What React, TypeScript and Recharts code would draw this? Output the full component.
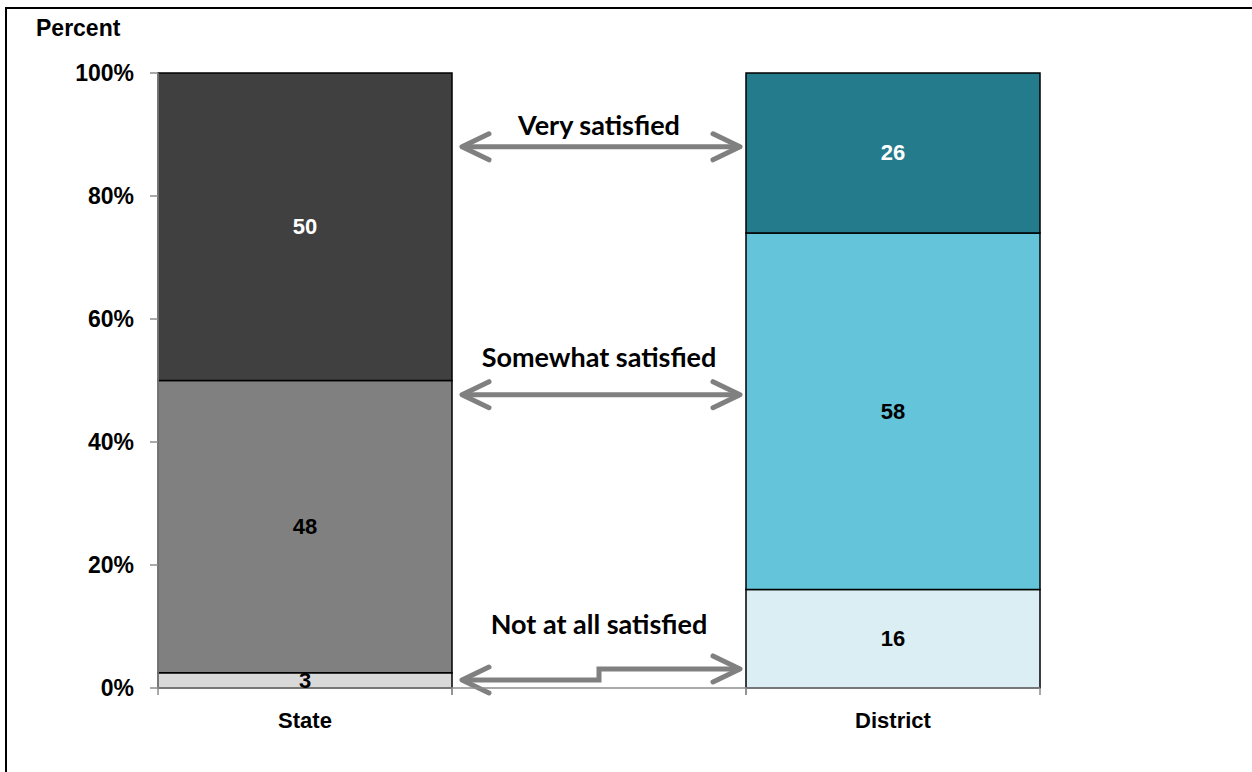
import { BarChart, Bar, XAxis, YAxis, ReferenceLine, ReferenceDot, Cell, LabelList } from "recharts";

// middle category is an empty spacer that holds the arrows
const categories = ["State", " ", "District"];
const notAtAll = [2.5, 0, 16];
const somewhat = [47.5, 0, 58];
const very = [50, 0, 26];

const notAtAllColors = ["#D9D9D9", "#ffffff", "#DAEEF3"];
const somewhatColors = ["#808080", "#ffffff", "#63C4DA"];
const veryColors = ["#404040", "#ffffff", "#237B8C"];

const yTicks = [0, 20, 40, 60, 80, 100];

// arrows between the two bars
const arrowNames = ["Very satisfied", "Somewhat satisfied", "Not at all satisfied"];
const arrowStateY = [88, 47.7, 1.3];
const arrowDistrictY = [88, 47.7, 3.1];
const arrowLabelY = [91.4, 53.7, 10.4];

const data = categories.map((name, i) => ({
  name,
  notAtAll: notAtAll[i],
  somewhat: somewhat[i],
  very: very[i],
}));

const axisFont = "'Liberation Sans', Arial, sans-serif";
const noteFont = "Lato, 'Open Sans', sans-serif";
const gray = "#8C8C8C";

// LabelList reads the category name, the number comes from the series array
const makeLabel = (color: string, values: number[]) => (props: any) => {
  const { x, y, width, height, value, index } = props;
  let i = categories.indexOf(value);
  if (i < 0) i = index;
  const v = values[i];
  if (!v) return <g />;
  return (
    <text
      x={x + width / 2}
      y={y + height / 2}
      textAnchor="middle"
      dominantBaseline="central"
      fill={color}
      fontSize={22}
      fontWeight={700}
      fontFamily={axisFont}
    >
      {Math.round(v)}
    </text>
  );
};

const Arrow = (props: any) => {
  const { x1, y1, x2, y2 } = props;
  const bw = (x2 - x1) / 2;
  const left = x1 + bw / 2 + 10;
  const right = x2 - bw / 2 - 6;
  const mid = (x1 + x2) / 2;
  const d = `M${left},${y1} H${mid} V${y2} H${right}`;
  const heads =
    `M${left + 27},${y1 - 13} L${left},${y1} L${left + 27},${y1 + 13} ` +
    `M${right - 27},${y2 - 13} L${right},${y2} L${right - 27},${y2 + 13}`;
  return (
    <g>
      <path d={d} fill="none" stroke="#808080" strokeWidth={5} />
      <path d={heads} fill="none" stroke="#808080" strokeWidth={5} strokeLinecap="round" strokeLinejoin="round" />
    </g>
  );
};

const XTick = (props: any) => {
  const { x, y, payload } = props;
  const off = payload?.offset ?? 0;
  return (
    <g>
      <line x1={x - off} y1={y - 8} x2={x - off} y2={y - 1} stroke={gray} strokeWidth={1.5} />
      <line x1={x + off} y1={y - 8} x2={x + off} y2={y - 1} stroke={gray} strokeWidth={1.5} />
      <text x={x} y={y + 24} textAnchor="middle" dominantBaseline="central" fill="#000" fontSize={22} fontWeight={700} fontFamily={axisFont}>
        {payload.value}
      </text>
    </g>
  );
};

export default function App() {
  return (
    <div style={{ position: "absolute", left: 0, top: 0, width: 1252, height: 772, background: "#fff" }}>
      <div
        style={{
          position: "absolute",
          left: 5,
          top: 7,
          width: 1245,
          height: 763,
          borderTop: "2px solid #000",
          borderLeft: "2px solid #000",
        }}
      />
      <div
        style={{
          position: "absolute",
          left: 36,
          top: 14,
          fontFamily: axisFont,
          fontWeight: 700,
          fontSize: 23,
          lineHeight: "28px",
        }}
      >
        Percent
      </div>
      <div style={{ position: "absolute", left: 0, top: 0 }}>
        <BarChart
          width={1252}
          height={772}
          data={data}
          barCategoryGap={0}
          margin={{ top: 73, right: 212, bottom: 44, left: 78 }}
        >
          <XAxis
            dataKey="name"
            height={40}
            tickLine={false}
            axisLine={{ stroke: gray, strokeWidth: 1.5 }}
            tick={<XTick />}
            interval={0}
          />
          <YAxis
            width={80}
            domain={[0, 100]}
            ticks={yTicks}
            tickFormatter={(v: number) => `${v}%`}
            tickSize={8}
            tickMargin={16}
            axisLine={{ stroke: gray, strokeWidth: 1.5 }}
            tickLine={{ stroke: gray, strokeWidth: 1.5 }}
            tick={{ fill: "#000", fontSize: 23, fontWeight: 700, fontFamily: axisFont }}
          />
          <Bar dataKey="notAtAll" stackId="a" isAnimationActive={false} stroke="#000" strokeWidth={1.5}>
            {data.map((_, i) => (
              <Cell key={i} fill={notAtAllColors[i]} />
            ))}
            <LabelList dataKey="name" content={makeLabel("#000", notAtAll)} />
          </Bar>
          <Bar dataKey="somewhat" stackId="a" isAnimationActive={false} stroke="#000" strokeWidth={1.5}>
            {data.map((_, i) => (
              <Cell key={i} fill={somewhatColors[i]} />
            ))}
            <LabelList dataKey="name" content={makeLabel("#000", somewhat)} />
          </Bar>
          <Bar dataKey="very" stackId="a" isAnimationActive={false} stroke="#000" strokeWidth={1.5}>
            {data.map((_, i) => (
              <Cell key={i} fill={veryColors[i]} />
            ))}
            <LabelList dataKey="name" content={makeLabel("#fff", very)} />
          </Bar>
          {arrowNames.map((name, i) => (
            <ReferenceLine
              key={`arrow-${name}`}
              segment={[
                { x: categories[0], y: arrowStateY[i] },
                { x: categories[2], y: arrowDistrictY[i] },
              ]}
              shape={(p: any) => <Arrow {...p} />}
            />
          ))}
          {arrowNames.map((name, i) => (
            <ReferenceDot
              key={`note-${name}`}
              x={categories[1]}
              y={arrowLabelY[i]}
              r={0}
              fill="none"
              stroke="none"
              label={{
                value: name,
                position: "center",
                fill: "#000",
                fontSize: 27,
                fontWeight: 700,
                fontFamily: noteFont,
              }}
            />
          ))}
        </BarChart>
      </div>
    </div>
  );
}
